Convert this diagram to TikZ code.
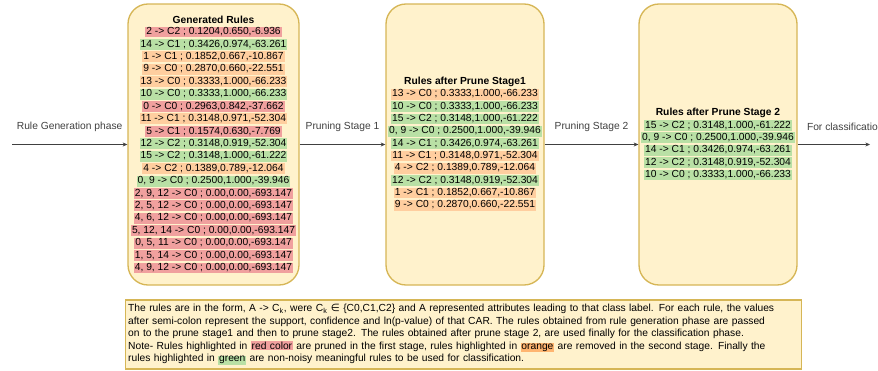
\documentclass[tikz,border=0pt]{standalone}
\usepackage{fontspec}
\setmainfont{Liberation Sans}
\newfontfamily\symfont{DejaVu Sans}
\usetikzlibrary{arrows.meta}

\definecolor{boxfill}{HTML}{FFF2CC}
\definecolor{boxline}{HTML}{D6B656}
\definecolor{hlr}{HTML}{F0A09E}
\definecolor{hlg}{HTML}{B9E0A5}
\definecolor{hlo}{HTML}{FFCE9F}
\definecolor{hlorange}{HTML}{FFB570}

\newcommand\hlw[2]{{\fboxsep=0.6pt\colorbox{#1}{#2}}}

\tikzset{
  stage/.style={draw=boxline, fill=boxfill, line width=1pt, rounded corners=15pt, minimum height=210.75pt},
  rule/.style={inner xsep=0.8pt, inner ysep=0pt, text height=6.1pt, text depth=2.1pt, font=\fontsize{7.7}{9}\selectfont},
  title/.style={font=\fontsize{7.7}{9}\selectfont\bfseries, inner sep=0pt},
  lbl/.style={font=\fontsize{7.7}{9}\selectfont, inner sep=0pt},
  flow/.style={-{Stealth[length=3.5pt,width=3pt]}, black!75, line width=0.5pt},
  note/.style={draw=boxline, fill=boxfill, line width=1pt, inner xsep=2pt, inner ysep=1pt, text width=503pt, minimum height=51.75pt, align=left, font=\fontsize{7.7}{9.4}\selectfont}
}

\begin{document}
\begin{tikzpicture}[x=0.75pt,y=-0.75pt]
\useasboundingbox (0,0) rectangle (878,371);

% the three stages
\node[stage, minimum width=128.25pt] (gen) at (213.5,144.5) {};
\node[stage, minimum width=118.5pt] (prune1) at (465,144.5) {};
\node[stage, minimum width=118.5pt] (prune2) at (718,144.5) {};

% generated rules
\node[title] (gent) at (213.5,20) {Generated Rules};
\foreach \c/\t [count=\i] in {hlr/{2 -> C2 ; 0.1204,0.650,-6.936}, hlg/{14 -> C1 ; 0.3426,0.974,-63.261},
  hlo/{1 -> C1 ; 0.1852,0.667,-10.867}, hlo/{9 -> C0 ; 0.2870,0.660,-22.551},
  hlo/{13 -> C0 ; 0.3333,1.000,-66.233}, hlg/{10 -> C0 ; 0.3333,1.000,-66.233},
  hlr/{0 -> C0 ; 0.2963,0.842,-37.662}, hlo/{11 -> C1 ; 0.3148,0.971,-52.304},
  hlr/{5 -> C1 ; 0.1574,0.630,-7.769}, hlg/{12 -> C2 ; 0.3148,0.919,-52.304},
  hlg/{15 -> C2 ; 0.3148,1.000,-61.222}, hlo/{4 -> C2 ; 0.1389,0.789,-12.064},
  hlg/{0, 9 -> C0 ; 0.2500,1.000,-39.946}, hlr/{2, 9, 12 -> C0 ; 0.00,0.00,-693.147},
  hlr/{2, 5, 12 -> C0 ; 0.00,0.00,-693.147}, hlr/{4, 6, 12 -> C0 ; 0.00,0.00,-693.147},
  hlr/{5, 12, 14 -> C0 ; 0.00,0.00,-693.147}, hlr/{0, 5, 11 -> C0 ; 0.00,0.00,-693.147},
  hlr/{1, 5, 14 -> C0 ; 0.00,0.00,-693.147}, hlr/{4, 9, 12 -> C0 ; 0.00,0.00,-693.147}}
  \node[rule, fill=\c] (g\i) at (213.5,19.6+12.42*\i) {\t};

% after prune stage 1
\node[title] (p1t) at (465,82) {Rules after Prune Stage1};
\foreach \c/\t [count=\i] in {hlo/{13 -> C0 ; 0.3333,1.000,-66.233}, hlg/{10 -> C0 ; 0.3333,1.000,-66.233},
  hlg/{15 -> C2 ; 0.3148,1.000,-61.222}, hlg/{0, 9 -> C0 ; 0.2500,1.000,-39.946},
  hlg/{14 -> C1 ; 0.3426,0.974,-63.261}, hlo/{11 -> C1 ; 0.3148,0.971,-52.304},
  hlo/{4 -> C2 ; 0.1389,0.789,-12.064}, hlg/{12 -> C2 ; 0.3148,0.919,-52.304},
  hlo/{1 -> C1 ; 0.1852,0.667,-10.867}, hlo/{9 -> C0 ; 0.2870,0.660,-22.551}}
  \node[rule, fill=\c] (a\i) at (465,82+12.33*\i) {\t};

% after prune stage 2
\node[title] (p2t) at (718,113) {Rules after Prune Stage 2};
\foreach \t [count=\i] in {{15 -> C2 ; 0.3148,1.000,-61.222}, {0, 9 -> C0 ; 0.2500,1.000,-39.946},
  {14 -> C1 ; 0.3426,0.974,-63.261}, {12 -> C2 ; 0.3148,0.919,-52.304},
  {10 -> C0 ; 0.3333,1.000,-66.233}}
  \node[rule, fill=hlg] (b\i) at (718,113+12.4*\i) {\t};

% flow
\coordinate (in) at (12,144.5);
\coordinate (out) at (870,144.5);
\draw[flow] (in) -- node[lbl, yshift=13.1pt] (l0) {Rule Generation phase} (gen.west);
\draw[flow] (gen.east) -- node[lbl, yshift=13.1pt] (l1) {Pruning Stage 1} (prune1.west);
\draw[flow] (prune1.east) -- node[lbl, yshift=13.1pt] (l2) {Pruning Stage 2} (prune2.west);
\draw[flow] (prune2.east) -- node[lbl, pos=0, anchor=west, xshift=6.75pt, yshift=13.1pt] (l3) {For classification} (out);

% legend
\node[note] (note) at (463.5,334.5) {The rules are in the form, A -> C\textsubscript{k}, were C\textsubscript{k} {\symfont ∈} \{C0,C1,C2\} and A represented attributes leading to that class label. For each rule, the values\\
after semi-colon represent the support, confidence and ln(p-value) of that CAR. The rules obtained from rule generation phase are passed\\
on to the prune stage1 and then to prune stage2. The rules obtained after prune stage 2, are used finally for the classification phase.\\
Note- Rules highlighted in \hlw{hlr}{red color} are pruned in the first stage, rules highlighted in \hlw{hlorange}{orange} are removed in the second stage. Finally the\\
rules highlighted in \hlw{hlg}{green} are non-noisy meaningful rules to be used for classification.};
\end{tikzpicture}
\end{document}
